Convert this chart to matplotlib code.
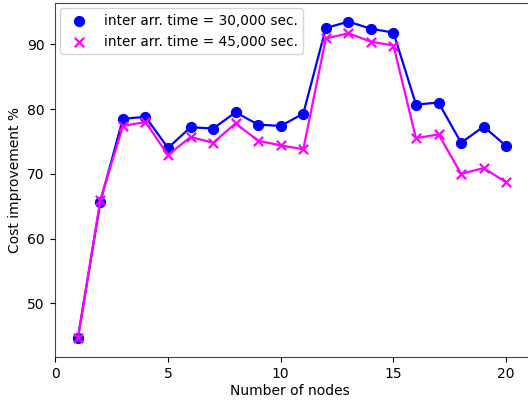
import matplotlib
matplotlib.use("Agg")
import matplotlib.pyplot as plt

nodes = list(range(1, 21))
cost_30k = [44.6, 65.7, 78.5, 78.8, 74.0, 77.2, 77.0, 79.5, 77.6, 77.4,
            79.3, 92.5, 93.5, 92.4, 91.8, 80.7, 81.0, 74.8, 77.3, 74.3]
cost_45k = [44.6, 66.0, 77.4, 78.0, 72.9, 75.7, 74.8, 77.8, 75.1, 74.4,
            73.8, 90.9, 91.7, 90.4, 89.8, 75.5, 76.1, 70.0, 70.9, 68.7]
label_30k = "inter arr. time = 30,000 sec."
label_45k = "inter arr. time = 45,000 sec."

W, H = 528, 403
fig = plt.figure(figsize=(W / 100, H / 100), dpi=100)
ax = fig.add_axes([54.5 / W, (H - 357) / H, (540 - 54.5) / W, (357 - 3) / H])

ax.plot(nodes, cost_30k, color="#0000ff", lw=1.6, zorder=2)
ax.scatter(nodes, cost_30k, color="#0000ff", marker="o", s=50, label=label_30k, zorder=3)
ax.plot(nodes, cost_45k, color="#ff00ff", lw=1.6, zorder=4)
ax.scatter(nodes, cost_45k, color="#ff00ff", marker="x", s=45, linewidths=1.6, label=label_45k, zorder=5)

ax.set_xlim(-0.035, 21.5)
ax.set_ylim(41.74, 96.37)
ax.set_xticks([0, 5, 10, 15, 20])
ax.set_yticks([50, 60, 70, 80, 90])
ax.tick_params(labelsize=10)
for s in ax.spines.values():
    s.set_color("#444444")
ax.set_xlabel("Number of nodes", fontsize=10)
ax.xaxis.set_label_coords(0.485, -0.075)
ax.set_ylabel("Cost improvement %", fontsize=10)
ax.legend(loc="upper left", fontsize=9.8, borderaxespad=0.4)

fig.savefig("out.png", dpi=100)
